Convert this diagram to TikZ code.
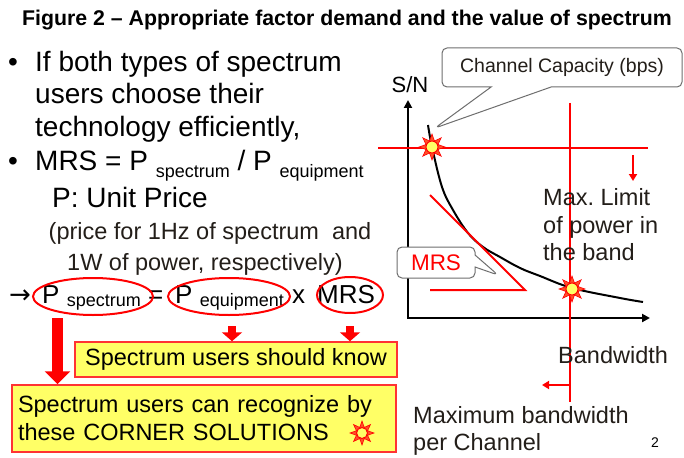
\documentclass[tikz,border=0pt]{standalone}
\usepackage{fontspec}
\setmainfont{Liberation Sans}
\newfontfamily\symfont{DejaVu Sans}
\usetikzlibrary{positioning,arrows.meta,shapes.geometric,shapes.callouts}
\definecolor{markred}{RGB}{255,0,0}
\definecolor{boxyellow}{RGB}{255,255,102}
\definecolor{boxedge}{RGB}{255,51,51}
\definecolor{sunorange}{RGB}{255,80,40}
\definecolor{tagedge}{RGB}{110,110,110}
\definecolor{textdark}{RGB}{35,30,25}

\newcommand{\lowtext}[2][7pt]{\raisebox{-#1}{\fontsize{18}{18}\selectfont #2}}

\begin{document}
\begin{tikzpicture}[
    x=1pt, y=-1pt,
    bigtext/.style={
        font=\fontsize{28}{33}\selectfont,
        inner sep=0pt,
        anchor=base west
    },
    midtext/.style={
        font=\fontsize{23.5}{28}\selectfont,
        inner sep=0pt,
        text=textdark
    },
    eqtext/.style={
        font=\fontsize{26}{30}\selectfont,
        inner sep=0pt,
        anchor=base west
    },
    ring/.style={
        ellipse,
        draw=markred,
        line width=2pt,
        inner sep=0pt
    },
    notebox/.style={
        draw=boxedge,
        line width=1.5pt,
        fill=boxyellow,
        inner sep=6pt,
        font=\fontsize{23.5}{28}\selectfont
    },
    tagbox/.style={
        rectangle callout,
        rounded corners=5pt,
        draw=tagedge,
        fill=white,
        line width=1pt
    },
    sunrays/.style={
        star,
        star points=8,
        star point ratio=2,
        minimum size=26pt,
        inner sep=0pt,
        fill=sunorange,
        draw=markred,
        line width=0.6pt
    },
    suncore/.style={
        circle,
        minimum size=12pt,
        inner sep=0pt,
        fill=boxyellow,
        draw=markred,
        line width=1pt
    },
    redline/.style={markred, line width=2pt},
    axis/.style={black, line width=2pt, -{Triangle[length=8pt,width=8pt]}},
    bigarr/.style={markred, line width=11pt, -{Triangle[length=13pt,width=25pt]}},
    smallarr/.style={markred, line width=8pt, -{Triangle[length=9pt,width=20pt]}}
]
\useasboundingbox (0,0) rectangle (684,457);

% ---------------- Title ----------------
\node[font=\fontsize{21.3}{24}\selectfont\bfseries, inner sep=0pt, anchor=base] (title) at (347,26)
{Figure 2 -- Appropriate factor demand and the value of spectrum};

% ---------------- Bullet text ----------------
\node[bigtext] (dot1) at (8,72) {•};
\node[bigtext] (line1) at (35,72) {If both types of spectrum};
\node[bigtext] (line2) at (35,104) {users choose their};
\node[bigtext] (line3) at (35,137) {technology efficiently,};
\node[bigtext] (dot2) at (8,170) {•};
\node[bigtext] (line4) at (35,170) {MRS = P \lowtext{spectrum} / P \lowtext{equipment}};
\node[bigtext] (line5) at (52,207) {P: Unit Price};
\node[midtext, anchor=base] (price1) at (210,239) {(price for 1Hz of spectrum\ \ and};
\node[midtext, anchor=base] (price2) at (205,270) {1W of power, respectively)};

% ---------------- Equation ----------------
\node[eqtext, font=\symfont\fontsize{26}{30}\selectfont] (then) at (9,303) {→};
\node[eqtext] (pspectxt) at (42,303) {P \lowtext[3pt]{spectrum}};
\node[eqtext] (equal) at (148,303) {=};
\node[eqtext] (pequiptxt) at (175,303) {P \lowtext[3pt]{equipment}};
\node[eqtext] (times) at (292,303) {x};
\node[eqtext] (mrstxt) at (317,303) {MRS};
\node[ring, minimum width=120pt, minimum height=37pt] (pspec) at (93,296.5) {};
\node[ring, minimum width=122pt, minimum height=37pt] (pequip) at (229,296.5) {};
\node[ring, minimum width=66pt, minimum height=36pt] (mrs) at (350,295) {};

% ---------------- Boxes ----------------
\node[notebox, minimum width=322pt, minimum height=35pt] (know) at (236,359.5) {Spectrum users should know};
\node[notebox, minimum width=384pt, minimum height=67pt, text width=372pt, align=left] (recog) at (204,418.5)
{Spectrum users can recognize by\\these CORNER SOLUTIONS};
\node[sunrays, minimum size=24pt] (sunicon) at (362,433) {};
\node[suncore, minimum size=11pt] at (sunicon) {};

\coordinate (bigstart) at (57.5,318);
\draw[bigarr] (bigstart) -- (bigstart |- recog.north);
\draw[smallarr] ([xshift=3pt,yshift=-10pt]pequip.south) -- ([xshift=3pt]pequip.south |- know.north);
\draw[smallarr] ([yshift=-12pt]mrs.south) -- (mrs.south |- know.north);

% ---------------- Graph ----------------
\coordinate (origin) at (408,318);
\coordinate (ytop) at (408,100);
\coordinate (xend) at (650,318);
\draw[axis] (origin) -- (ytop);
\draw[axis] ([xshift=-1pt]origin) -- (xend);
\node[font=\fontsize{22}{24}\selectfont, inner sep=0pt, anchor=base] (snr) at (410,93) {S/N};

% limits
\coordinate (pleft) at (378,148);
\coordinate (pright) at (648,148);
\coordinate (btop) at (570,103);
\coordinate (bbot) at (570,402);
\draw[redline] (pleft) -- (pright);
\draw[redline] (btop) -- (bbot);
\coordinate (pdown1) at (633,155);
\coordinate (pdown2) at (633,181);
\draw[redline, -{Triangle[length=7pt,width=8pt]}] (pdown1) -- (pdown2);
\coordinate (bleft) at (542,385);
\draw[redline, -{Triangle[length=7pt,width=8pt]}] (bbot |- bleft) -- (bleft);

% capacity curve
\draw[black, line width=2pt] plot[smooth, tension=0.6] coordinates {
    (428,125) (432,147) (442,187) (453,210) (468,233) (483,247) (500,257)
    (520,268) (540,276) (572,288) (620,298) (643,302)};

% MRS slope
\coordinate (tria) at (430,195);
\coordinate (trib) at (525,290);
\coordinate (tric) at (430,290);
\draw[redline] (tria) -- (trib) -- (tric);

% corner solutions
\node[sunrays] (sun1) at (432,147) {};
\node[suncore] at (sun1) {};
\node[sunrays] (sun2) at (572,289) {};
\node[suncore] at (sun2) {};

% callouts
\coordinate (captip) at (435,128);
\node[tagbox, minimum width=240pt, minimum height=39pt, callout absolute pointer={(captip)},
      callout pointer width=60pt, text=textdark, font=\fontsize{19.5}{21}\selectfont] (capbox) at (562,67.5)
{Channel\ Capacity\ (bps)};
\coordinate (mrstip) at (498,275);
\node[tagbox, minimum width=78pt, minimum height=31pt, callout absolute pointer={(mrstip)},
      callout pointer width=12pt, text=markred, font=\fontsize{22.5}{24}\selectfont] (mrstag) at (436,262.5) {MRS};

% labels
\node[midtext, anchor=base west] (powlab) at (543,205) {Max.\ Limit};
\node[midtext, anchor=base west] (powlab2) at (543,233) {of power in};
\node[midtext, anchor=base west] (powlab3) at (543,260) {the band};
\node[midtext, anchor=base west] (bwlab) at (558,363) {Bandwidth};
\node[midtext, anchor=base west] (maxbw1) at (413,423) {Maximum bandwidth};
\node[midtext, anchor=base west] (maxbw2) at (413,450) {per Channel};
\node[font=\fontsize{14}{16}\selectfont, inner sep=0pt, anchor=base] (pageno) at (655,447) {2};

\end{tikzpicture}
\end{document}
